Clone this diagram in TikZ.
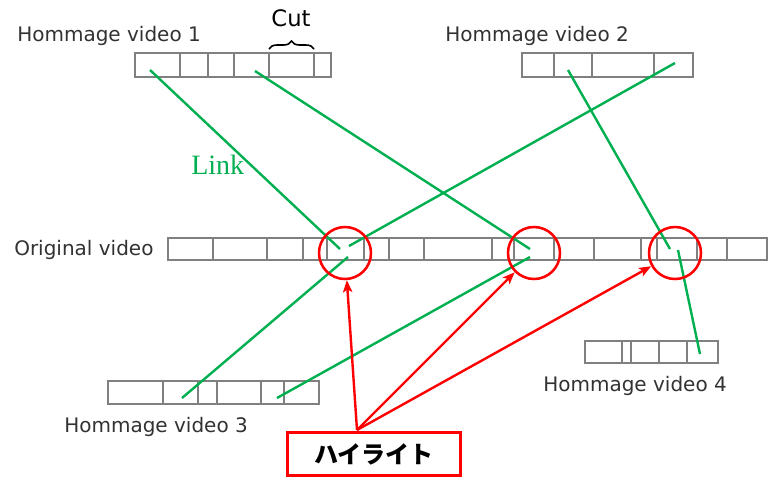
\documentclass[tikz,border=0pt]{standalone}
\usepackage{fontspec}
\setmainfont{DejaVu Sans}
\newfontfamily\linkfont{Liberation Serif}
\newfontfamily\jpfont{Noto Sans CJK JP}
\usetikzlibrary{arrows.meta,positioning,decorations.pathreplacing}
\definecolor{linkgreen}{RGB}{0,176,80}
\definecolor{labelgray}{RGB}{50,50,50}
\tikzstyle{frame} = [draw=black!50, line width=1pt]
\tikzstyle{link} = [draw=linkgreen, line width=1.8pt]
\tikzstyle{hotspot} = [draw=red, circle, line width=1.9pt, minimum size=39pt, inner sep=0pt]
\tikzstyle{pointer} = [draw=red, line width=1.8pt, ->]
\tikzstyle{title} = [text=labelgray, font=\fontsize{15}{18}\selectfont, anchor=base west, inner sep=0pt]
\tikzstyle{highlight} = [draw=red, line width=2.4pt, minimum width=130pt, minimum height=32pt, font=\jpfont\bfseries\fontsize{18}{20}\selectfont]

\begin{document}
\begin{tikzpicture}[x=0.75pt, y=-0.75pt, >={Stealth[length=9pt, width=7pt, inset=2pt]}]
\useasboundingbox (0,0) rectangle (769,476);

    % We start by placing the video strips
    \draw[frame] (135,53) rectangle (331,77) (180,53) -- (180,77) (208,53) -- (208,77)
        (234,53) -- (234,77) (269,53) -- (269,77) (314,53) -- (314,77);
    \draw[frame] (522,53) rectangle (693,77) (554,53) -- (554,77) (592,53) -- (592,77)
        (654,53) -- (654,77);
    \draw[frame] (168,238) rectangle (767,260) (213,238) -- (213,260) (267,238) -- (267,260)
        (303,238) -- (303,260) (327,238) -- (327,260) (364,238) -- (364,260)
        (389,238) -- (389,260) (424,238) -- (424,260) (492,238) -- (492,260)
        (514,238) -- (514,260) (554,238) -- (554,260) (594,238) -- (594,260)
        (641,238) -- (641,260) (657,238) -- (657,260) (697,238) -- (697,260)
        (727,238) -- (727,260);
    \draw[frame] (108,381) rectangle (319,404) (163,381) -- (163,404) (198,381) -- (198,404)
        (217,381) -- (217,404) (261,381) -- (261,404) (284,381) -- (284,404);
    \draw[frame] (585,341) rectangle (718,363) (622,341) -- (622,363) (631,341) -- (631,363)
        (659,341) -- (659,363) (687,341) -- (687,363);

    % the labels
    \node[title] (hv1) at (17,41) {Hommage video 1};
    \node[title] (hv2) at (445,41) {Hommage video 2};
    \node[title] (orig) at (14,255) {Original video};
    \node[title] (hv3) at (64,432) {Hommage video 3};
    \node[title] (hv4) at (543,391) {Hommage video 4};
    \node[anchor=base, inner sep=0pt, font=\fontsize{17}{20}\selectfont] (cut) at (291,26) {Cut};
    \draw[decorate, decoration={brace, amplitude=6pt}, line width=1.2pt] (269,49) -- (314,49);
    \node[anchor=base west, inner sep=0pt, text=linkgreen, font=\linkfont\fontsize{21}{24}\selectfont] (lnk) at (191,174) {Link};

    % link ends
    \coordinate (a1) at (150,70);  \coordinate (b1) at (340,249);
    \coordinate (a2) at (255,71);  \coordinate (b2) at (530,249);
    \coordinate (a3) at (568,70);  \coordinate (b3) at (670,249);
    \coordinate (a4) at (675,63);  \coordinate (b4) at (349,246);
    \coordinate (a5) at (182,398); \coordinate (b5) at (348,257);
    \coordinate (a6) at (277,398); \coordinate (b6) at (530,257);
    \coordinate (a7) at (700,354); \coordinate (b7) at (678,250);

    \draw[link] (a1) -- (b1);
    \draw[link] (a2) -- (b2);
    \draw[link] (a3) -- (b3);
    \draw[link] (a4) -- (b4);
    \draw[link] (a5) -- (b5);
    \draw[link] (a6) -- (b6);
    \draw[link] (a7) -- (b7);

    % highlighted spots
    \node[hotspot] (h1) at (345,253) {};
    \node[hotspot] (h2) at (534,253) {};
    \node[hotspot] (h3) at (675,253) {};

    \node[highlight] (hl) at (374,454) {ハイライト};
    \coordinate (src) at (357,430);

    \draw[pointer] (src) -- (h1);
    \draw[pointer] (src) -- (h2);
    \draw[pointer] (src) -- (h3);

\end{tikzpicture}
\end{document}
